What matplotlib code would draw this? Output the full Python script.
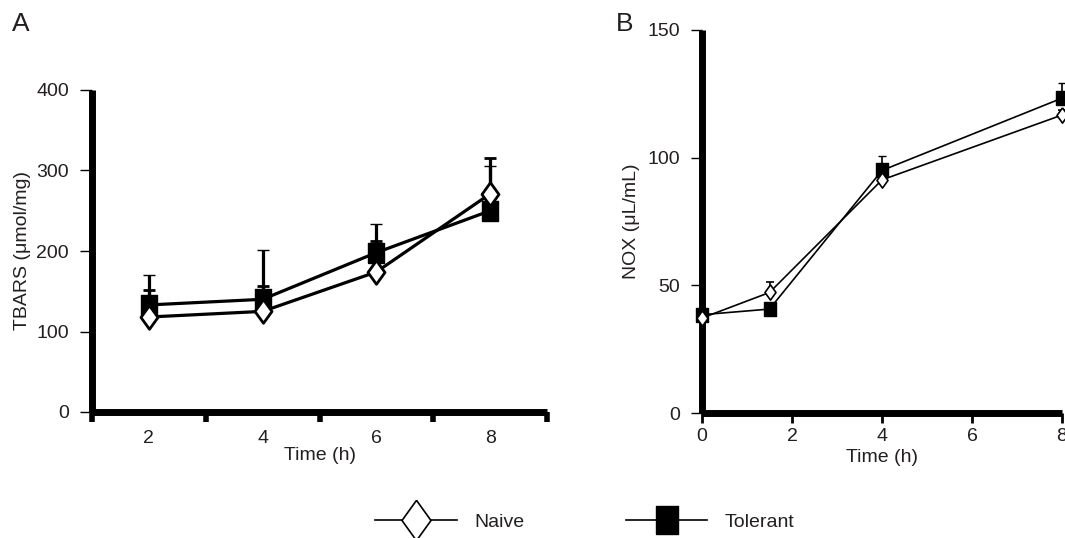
import matplotlib
matplotlib.use("Agg")
import matplotlib.pyplot as plt
from matplotlib.lines import Line2D
import numpy as np

plt.rcParams['font.family'] = ['Liberation Sans', 'DejaVu Sans']
TXT = '#231f20'
FS = 14

# ---- Panel A data (TBARS) ----
a_time = [2, 4, 6, 8]
a_naive = [118, 125, 174, 271]
a_naive_err = [33, 31, 39, 44]
a_tol = [133, 140, 198, 250]
a_tol_err = [37, 61, 35, 55]
a_yticks = [0, 100, 200, 300, 400]
a_xlabels = [2, 4, 6, 8]

# ---- Panel B data (NOX) ----
b_time = [0, 1.5, 4, 8]
b_naive = [37.2, 47.2, 91.3, 116.7]
b_naive_err = [1, 4, 1, 2]
b_tol = [38.5, 40.7, 95.0, 123.3]
b_tol_err = [1, 1, 5.5, 6]
b_yticks = [0, 50, 100, 150]
b_xticks = [0, 2, 4, 6, 8]

diamond = [(0, 1), (0.72, 0), (0, -1), (-0.72, 0), (0, 1)]
rect = [(-0.8, -1), (0.8, -1), (0.8, 1), (-0.8, 1), (-0.8, -1)]

W, H = 1065, 538
fig = plt.figure(figsize=(W / 100, H / 100), dpi=100)

def fx(px):
    return px / W

def fy(py):
    return 1 - py / H

axA = fig.add_axes([fx(92), fy(412), fx(547) - fx(92), fy(90) - fy(412)])
axB = fig.add_axes([fx(702), fy(413), fx(1062) - fx(702), fy(30) - fy(413)])

for ax in (axA, axB):
    for s in ('top', 'right'):
        ax.spines[s].set_visible(False)
    for s in ('left', 'bottom'):
        ax.spines[s].set_linewidth(5)
        ax.spines[s].set_color('black')
        ax.spines[s].set_capstyle('butt')

# Panel A
axA.errorbar(a_time, a_tol, yerr=[np.zeros(len(a_tol)), a_tol_err], color='black',
             lw=2.3, marker=rect, ms=14, mfc='black', mec='black', mew=1,
             ecolor='black', elinewidth=2.3, capsize=4, capthick=2.3, clip_on=False, zorder=3)
axA.errorbar(a_time, a_naive, yerr=[np.zeros(len(a_naive)), a_naive_err], color='black',
             lw=2.3, marker=diamond, ms=17, mfc='white', mec='black', mew=2,
             ecolor='black', elinewidth=2.3, capsize=4, capthick=2.3, clip_on=False, zorder=4)
axA.set_xlim(1, 9)
axA.set_ylim(0, 400)
axA.set_yticks(a_yticks)
axA.set_yticklabels([str(v) for v in a_yticks])
axA.set_xticks([1, 3, 5, 7, 9])
axA.set_xticklabels([])
axA.set_xticks(a_xlabels, minor=True)
axA.set_xticklabels([str(v) for v in a_xlabels], minor=True)
axA.tick_params(axis='x', which='major', direction='out', length=7, width=4, color='black')
axA.tick_params(axis='x', which='minor', length=0, pad=13, labelsize=FS, labelcolor=TXT)
axA.tick_params(axis='y', direction='out', length=8.5, width=1, pad=8, labelsize=FS, labelcolor=TXT)
axA.set_xlabel('Time (h)', fontsize=FS, color=TXT, labelpad=0)
axA.set_ylabel('TBARS (μmol/mg)', fontsize=FS, color=TXT, labelpad=4)

# Panel B
axB.errorbar(b_time, b_tol, yerr=[np.zeros(len(b_tol)), b_tol_err], color='black',
             lw=1.2, marker=rect, ms=10, mfc='black', mec='black', mew=1,
             ecolor='black', elinewidth=1.2, capsize=3, capthick=1.2, clip_on=False, zorder=3)
axB.errorbar(b_time, b_naive, yerr=[np.zeros(len(b_naive)), b_naive_err], color='black',
             lw=1.2, marker=diamond, ms=11, mfc='white', mec='black', mew=1.2,
             ecolor='black', elinewidth=1.2, capsize=3, capthick=1.2, clip_on=False, zorder=4)
axB.set_xlim(0, 8)
axB.set_ylim(0, 150)
axB.set_yticks(b_yticks)
axB.set_yticklabels([str(v) for v in b_yticks])
axB.set_xticks(b_xticks)
axB.set_xticklabels([str(v) for v in b_xticks])
axB.tick_params(axis='x', direction='out', length=7, width=2, pad=3.5, labelsize=FS, labelcolor=TXT)
axB.tick_params(axis='y', direction='out', length=8, width=1, pad=8, labelsize=FS, labelcolor=TXT)
axB.set_xlabel('Time (h)', fontsize=FS, color=TXT, labelpad=3)
axB.set_ylabel('NOX (μL/mL)', fontsize=FS, color=TXT, labelpad=5)

fig.text(fx(12), fy(24), 'A', fontsize=19, color=TXT, va='center', ha='left')
fig.text(fx(616), fy(24), 'B', fontsize=19, color=TXT, va='center', ha='left')

handles = [
    Line2D([], [], color='black', lw=1.2, marker=diamond, ms=29, mfc='white', mec='black', mew=1.2),
    Line2D([], [], color='black', lw=1.2, marker=rect, ms=20, mfc='black', mec='black', mew=1),
]
fig.legend(handles, ['Naive', 'Tolerant'], loc='center', bbox_to_anchor=(fx(585), fy(522)),
           ncol=2, frameon=False, fontsize=FS, handlelength=4.2, handletextpad=0.9,
           columnspacing=5.2, labelcolor=TXT, borderpad=0)

fig.savefig('out.png', dpi=100)
